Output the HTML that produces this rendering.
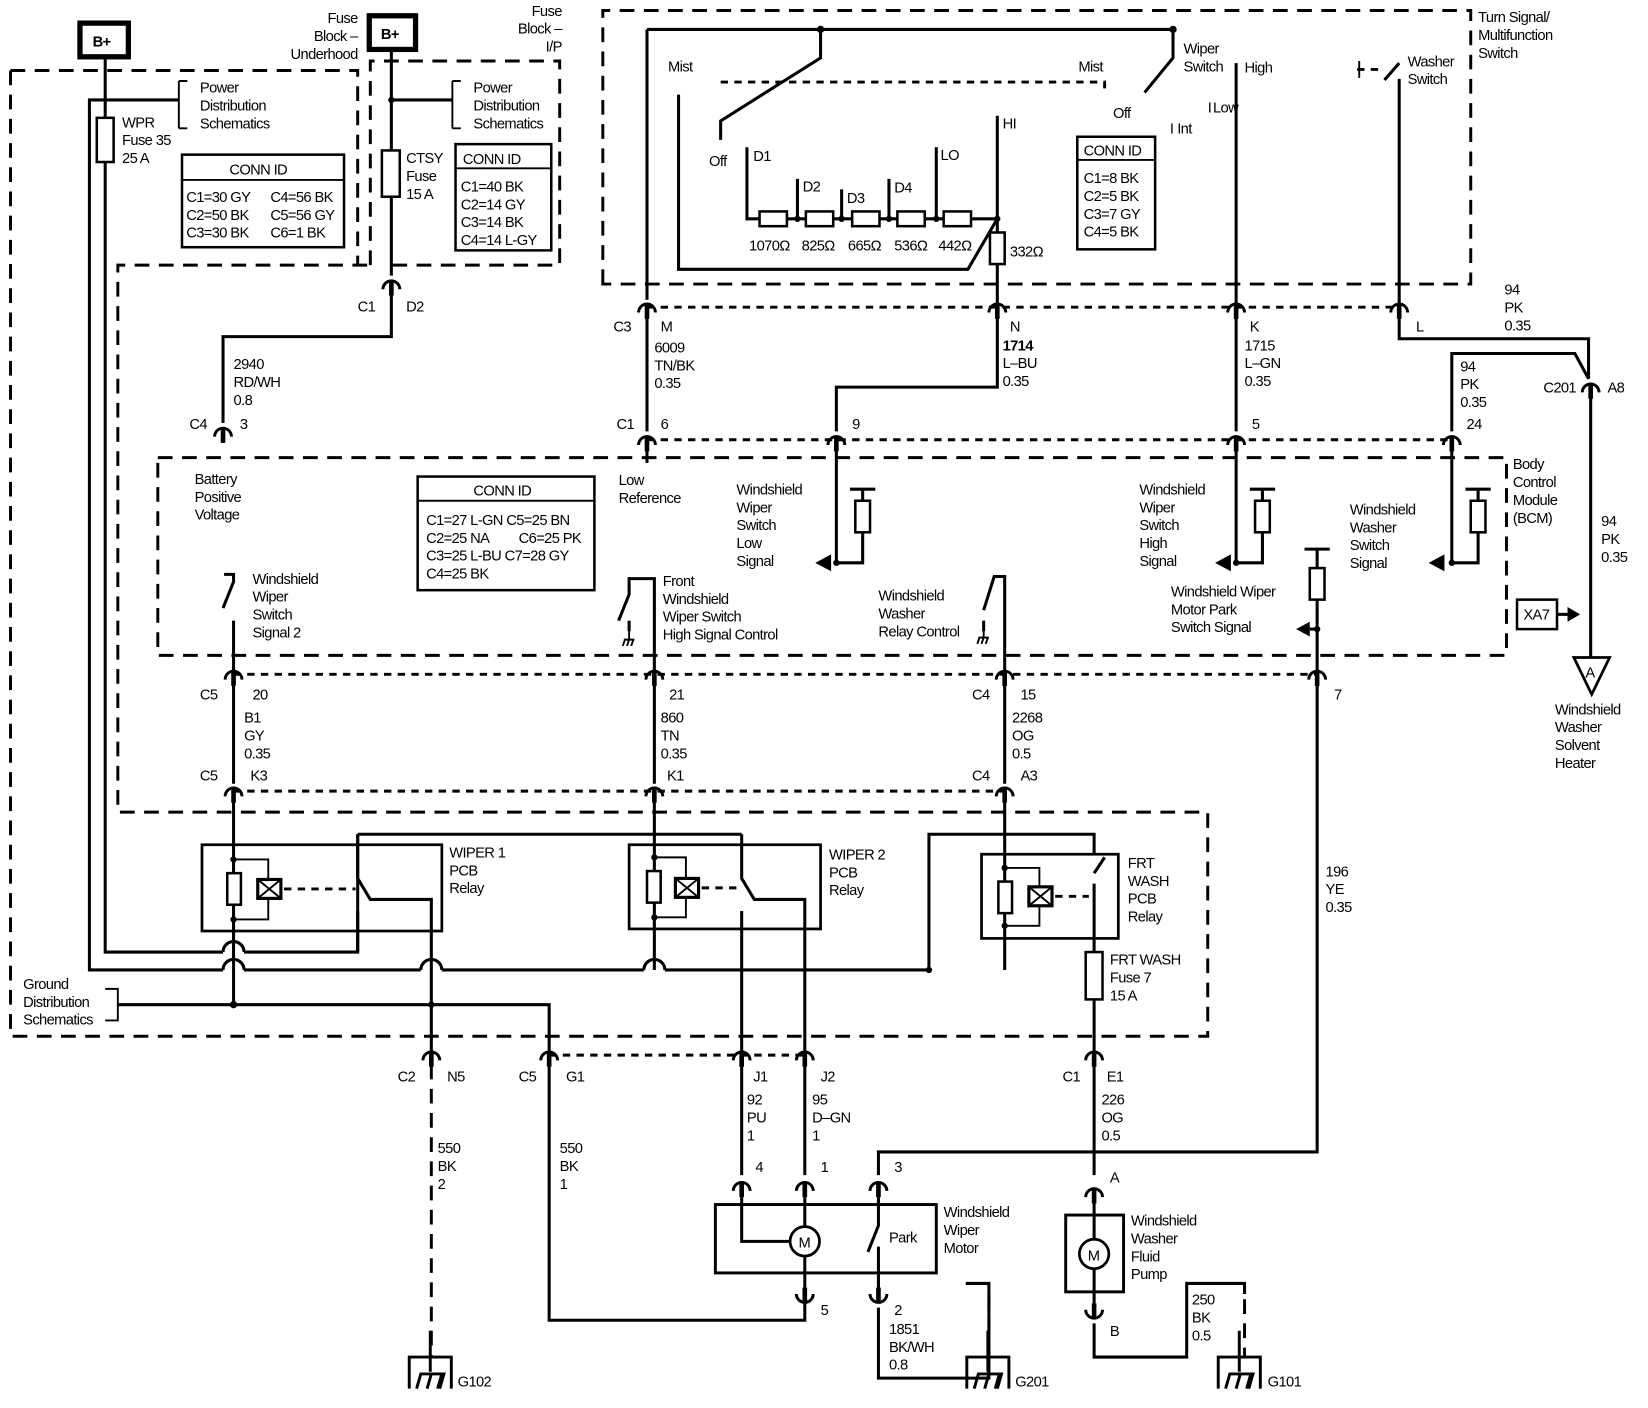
<!DOCTYPE html>
<html><head><meta charset="utf-8"><style>
html,body{margin:0;padding:0;background:#fff;}
svg{display:block;}
text{font-family:"Liberation Sans",sans-serif;font-size:14px;fill:#000;letter-spacing:-0.6px;}
.w{stroke:#000;stroke-width:2.9;fill:none;}
.t{stroke:#000;stroke-width:1.8;fill:none;}
.ld{stroke:#000;stroke-width:2.8;fill:none;stroke-dasharray:14 9;}
.sd{stroke:#000;stroke-width:2.8;fill:none;stroke-dasharray:7 6;}
.b{stroke:#000;stroke-width:2.4;fill:#fff;}
</style></head><body>
<svg width="1648" height="1408" viewBox="0 0 1566.5 1338.4" preserveAspectRatio="none" xmlns="http://www.w3.org/2000/svg">
<defs>
<g id="cup"><path d="M-8,5 A8,8 0 0 1 8,5" stroke="#000" stroke-width="2.8" fill="none"/><rect x="-2.2" y="-3" width="4.4" height="14" fill="#000"/></g>
<g id="gnd"><path d="M-20,30 V0 H20 V30 M0,-25 V14 M-13,30 L-9,16 H13 L9,30 M-3,30 L1,16 M7,30 L11,16" stroke="#000" stroke-width="2.8" fill="none"/></g>
<g id="cg"><path d="M-5,0 H5 M-4,0 L-6,6 M0,0 L-2,6 M4,0 L2,6 M0,-10 V0" stroke="#000" stroke-width="1.8" fill="none"/></g>
</defs>

<path class="ld" d="M10,67 H340 V252 M10,67 V985 H1148 V772 H112 V252 H352"/>
<path class="ld" d="M352,252 V58 H532 V252 H372"/>
<path class="ld" d="M573,270 V10 H1398 V270 Z"/>
<path class="ld" d="M150,435 H1432 V623 H150 Z"/>
<path class="sd" d="M615,292 H1330"/>
<path class="sd" d="M615,418 H1380"/>
<path class="sd" d="M222,641 H1252"/>
<path class="sd" d="M222,752 H955"/>
<path class="sd" d="M522,1003 H765"/>

<rect x="76" y="22" width="46" height="32" fill="#fff" stroke="#000" stroke-width="5"/>
<text x="88" y="44" font-weight="bold">B+</text>
<rect x="351" y="15" width="44" height="32" fill="#fff" stroke="#000" stroke-width="5"/>
<text x="362" y="37" font-weight="bold">B+</text>
<text x="340" y="22" text-anchor="end">Fuse</text>
<text x="340" y="39" text-anchor="end">Block –</text>
<text x="340" y="56" text-anchor="end">Underhood</text>
<text x="534" y="15" text-anchor="end">Fuse</text>
<text x="534" y="32" text-anchor="end">Block –</text>
<text x="534" y="49" text-anchor="end">I/P</text>

<path class="w" d="M100,54 V905 H212 M232,905 H340 V793 H340"/>
<path class="w" d="M100,95 H85 V922 H212 M232,922 H400 M420,922 H612 M632,922 H883"/>
<path class="w" d="M100,95 H170"/>
<path class="t" d="M170,77 V122 M170,77 H178 M170,122 H178"/>
<rect x="92" y="112" width="16" height="42" class="b"/>
<text x="116" y="121">WPR</text><text x="116" y="138">Fuse 35</text><text x="116" y="155">25 A</text>
<text x="190" y="88">Power</text><text x="190" y="105">Distribution</text><text x="190" y="122">Schematics</text>
<rect x="173" y="147" width="154" height="88" class="b"/><path class="t" d="M173,171 H327"/>
<text x="218" y="166">CONN ID</text>
<text x="177" y="192">C1=30 GY</text><text x="257" y="192">C4=56 BK</text>
<text x="177" y="209">C2=50 BK</text><text x="257" y="209">C5=56 GY</text>
<text x="177" y="226">C3=30 BK</text><text x="257" y="226">C6=1 BK</text>

<path class="w" d="M372,47 V262"/>
<path class="w" d="M372,95 H430"/><circle cx="372" cy="95" r="3"/>
<path class="t" d="M430,77 V122 M430,77 H438 M430,122 H438"/>
<rect x="363" y="143" width="17" height="44" class="b"/>
<text x="386" y="155">CTSY</text><text x="386" y="172">Fuse</text><text x="386" y="189">15 A</text>
<text x="450" y="88">Power</text><text x="450" y="105">Distribution</text><text x="450" y="122">Schematics</text>
<rect x="433" y="137" width="91" height="101" class="b"/><path class="t" d="M433,160 H524"/>
<text x="440" y="156">CONN ID</text>
<text x="438" y="182">C1=40 BK</text><text x="438" y="199">C2=14 GY</text><text x="438" y="216">C3=14 BK</text><text x="438" y="233">C4=14 L-GY</text>

<use href="#cup" x="372" y="270"/>
<text x="340" y="296">C1</text><text x="386" y="296">D2</text>
<path class="w" d="M372,280 V320 H212 V402"/>
<text x="222" y="351">2940</text><text x="222" y="368">RD/WH</text><text x="222" y="385">0.8</text>
<use href="#cup" x="212" y="410"/>
<text x="180" y="408">C4</text><text x="228" y="408">3</text>
<text x="185" y="460">Battery</text><text x="185" y="477">Positive</text><text x="185" y="494">Voltage</text>

<path class="w" d="M615,28 H1115 V55 L1088,88"/>
<circle cx="780" cy="28" r="3.5"/><circle cx="1115" cy="28" r="3.5"/>
<path class="w" d="M780,28 V55 L685,115 V133"/>
<path class="sd" d="M685,78 H1050 V88"/>
<path class="w" d="M615,28 V285"/>
<path class="w" d="M645,90 V256 H920 L948,208"/>
<text x="635" y="68">Mist</text><text x="1025" y="68">Mist</text>
<text x="674" y="158">Off</text><text x="1058" y="112">Off</text>
<text x="1125" y="51">Wiper</text><text x="1125" y="68">Switch</text>
<text x="1183" y="69">High</text>
<path class="w" d="M710,140 V208 H948"/>
<path class="w" d="M758,170 V208 M800,180 V208 M845,170 V208 M890,140 V208"/>
<circle cx="758" cy="208" r="3"/><circle cx="800" cy="208" r="3"/><circle cx="845" cy="208" r="3"/><circle cx="890" cy="208" r="3"/><circle cx="948" cy="208" r="3"/>
<rect x="722" y="201" width="26" height="14" class="b"/><rect x="766" y="201" width="26" height="14" class="b"/><rect x="810" y="201" width="26" height="14" class="b"/><rect x="853" y="201" width="26" height="14" class="b"/><rect x="897" y="201" width="26" height="14" class="b"/>
<text x="716" y="153">D1</text><text x="763" y="182">D2</text><text x="805" y="193">D3</text><text x="850" y="183">D4</text><text x="894" y="152">LO</text><text x="953" y="122">HI</text>
<text x="712" y="238">1070Ω</text><text x="762" y="238">825Ω</text><text x="806" y="238">665Ω</text><text x="850" y="238">536Ω</text><text x="892" y="238">442Ω</text>
<path class="w" d="M948,110 V290"/>
<rect x="941" y="221" width="14" height="30" class="b"/>
<text x="960" y="244">332Ω</text>
<rect x="1024" y="130" width="74" height="107" class="b"/><path class="t" d="M1024,152 H1098"/>
<text x="1030" y="148">CONN ID</text>
<text x="1030" y="174">C1=8 BK</text><text x="1030" y="191">C2=5 BK</text><text x="1030" y="208">C3=7 GY</text><text x="1030" y="225">C4=5 BK</text>
<path class="w" d="M1175,60 V290"/>
<text x="1112" y="127">I</text><text x="1119" y="127" font-size="11">Int</text>
<text x="1148" y="107">I</text><text x="1153" y="107">Low</text>
<path class="w" d="M1330,75 V290 M1330,60 L1316,76"/>
<path class="sd" d="M1290,66 H1310"/><path class="t" d="M1292,58 V74"/>
<text x="1338" y="63">Washer</text><text x="1338" y="80">Switch</text>
<text x="1405" y="21">Turn Signal/</text><text x="1405" y="38">Multifunction</text><text x="1405" y="55">Switch</text>

<use href="#cup" x="615" y="292"/><use href="#cup" x="948" y="292"/><use href="#cup" x="1175" y="292"/><use href="#cup" x="1330" y="292"/>
<text x="583" y="315">C3</text><text x="628" y="315">M</text><text x="960" y="315">N</text><text x="1188" y="315">K</text><text x="1346" y="315">L</text>
<path class="w" d="M615,300 V410"/>
<text x="622" y="335">6009</text><text x="622" y="352">TN/BK</text><text x="622" y="369">0.35</text>
<path class="w" d="M948,300 V368 H795 V410"/>
<text x="953" y="333" font-weight="bold">1714</text><text x="953" y="350">L–BU</text><text x="953" y="367">0.35</text>
<path class="w" d="M1175,300 V410"/>
<text x="1183" y="333">1715</text><text x="1183" y="350">L–GN</text><text x="1183" y="367">0.35</text>
<path class="w" d="M1330,300 V322 H1510 V360"/>
<text x="1430" y="280">94</text><text x="1430" y="297">PK</text><text x="1430" y="314">0.35</text>
<path class="w" d="M1380,410 V336 H1497 L1510,360"/>
<text x="1388" y="353">94</text><text x="1388" y="370">PK</text><text x="1388" y="387">0.35</text>
<use href="#cup" x="1512" y="368"/>
<text x="1467" y="373">C201</text><text x="1528" y="373">A8</text>
<path class="w" d="M1512,378 V625"/>
<text x="1522" y="500">94</text><text x="1522" y="517">PK</text><text x="1522" y="534">0.35</text>
<path d="M1496,625 H1530 L1513,660 Z" fill="#fff" stroke="#000" stroke-width="2.6"/>
<text x="1507" y="644">A</text>
<text x="1478" y="679">Windshield</text><text x="1478" y="696">Washer</text><text x="1478" y="713">Solvent</text><text x="1478" y="730">Heater</text>

<use href="#cup" x="615" y="418"/><use href="#cup" x="795" y="418"/><use href="#cup" x="1175" y="418"/><use href="#cup" x="1380" y="418"/>
<text x="586" y="408">C1</text><text x="628" y="408">6</text><text x="810" y="408">9</text><text x="1190" y="408">5</text><text x="1394" y="408">24</text>
<path class="w" d="M615,428 V440"/>
<text x="588" y="461">Low</text><text x="588" y="478">Reference</text>

<path class="w" d="M795,428 V535 H820 V505 M820,478 V465"/><path class="w" d="M808,465 H832"/>
<rect x="813" y="476" width="14" height="30" class="b"/>
<path d="M775,535 L790,527 V543 Z"/><circle cx="795" cy="535" r="3"/>
<text x="700" y="470">Windshield</text><text x="700" y="487">Wiper</text><text x="700" y="504">Switch</text><text x="700" y="521">Low</text><text x="700" y="538">Signal</text>
<path class="w" d="M1175,428 V535 H1200 V505 M1200,478 V465"/><path class="w" d="M1188,465 H1212"/>
<rect x="1193" y="476" width="14" height="30" class="b"/>
<path d="M1155,535 L1170,527 V543 Z"/><circle cx="1175" cy="535" r="3"/>
<text x="1083" y="470">Windshield</text><text x="1083" y="487">Wiper</text><text x="1083" y="504">Switch</text><text x="1083" y="521">High</text><text x="1083" y="538">Signal</text>
<path class="w" d="M1380,428 V535 H1405 V505 M1405,478 V465"/><path class="w" d="M1393,465 H1417"/>
<rect x="1398" y="476" width="14" height="30" class="b"/>
<path d="M1358,535 L1373,527 V543 Z"/><circle cx="1380" cy="535" r="3"/>
<text x="1283" y="489">Windshield</text><text x="1283" y="506">Washer</text><text x="1283" y="523">Switch</text><text x="1283" y="540">Signal</text>
<text x="1438" y="446">Body</text><text x="1438" y="463">Control</text><text x="1438" y="480">Module</text><text x="1438" y="497">(BCM)</text>
<rect x="1442" y="570" width="38" height="28" class="b"/><text x="1448" y="589">XA7</text>
<path class="w" d="M1480,584 H1492"/><path d="M1502,584 L1490,577 V591 Z"/>
<path class="w" d="M1240,522 H1264 M1252,522 V640"/>
<rect x="1245" y="540" width="14" height="30" class="b"/>
<path d="M1232,598 L1245,591 V605 Z"/><path class="w" d="M1245,598 H1252"/><circle cx="1252" cy="598" r="3"/>
<text x="1113" y="567">Windshield Wiper</text><text x="1113" y="584">Motor Park</text><text x="1113" y="601">Switch Signal</text>
<path class="w" d="M213,546 H222 V553 L212,578 M222,590 V641"/>
<text x="240" y="555">Windshield</text><text x="240" y="572">Wiper</text><text x="240" y="589">Switch</text><text x="240" y="606">Signal 2</text>
<rect x="397" y="453" width="168" height="108" class="b"/><path class="t" d="M397,476 H565"/>
<text x="450" y="471">CONN ID</text>
<text x="405" y="499">C1=27 L-GN C5=25 BN</text><text x="405" y="516">C2=25 NA</text><text x="493" y="516">C6=25 PK</text>
<text x="405" y="533">C3=25 L-BU C7=28 GY</text><text x="405" y="550">C4=25 BK</text>
<path class="w" d="M622,641 V550 H598 V565 L588,590"/><path class="w" d="M598,590 V600"/><use href="#cg" x="598" y="608"/>
<text x="630" y="557">Front</text><text x="630" y="574">Windshield</text><text x="630" y="591">Wiper Switch</text><text x="630" y="608">High Signal Control</text>
<path class="w" d="M955,641 V548 H945 L935,580 M935,590 V600"/><use href="#cg" x="935" y="606"/>
<text x="835" y="571">Windshield</text><text x="835" y="588">Washer</text><text x="835" y="605">Relay Control</text>

<use href="#cup" x="222" y="641"/><use href="#cup" x="622" y="641"/><use href="#cup" x="955" y="641"/><use href="#cup" x="1252" y="641"/>
<text x="190" y="665">C5</text><text x="240" y="665">20</text><text x="636" y="665">21</text><text x="924" y="665">C4</text><text x="970" y="665">15</text><text x="1268" y="665">7</text>
<text x="232" y="687">B1</text><text x="232" y="704">GY</text><text x="232" y="721">0.35</text>
<text x="628" y="687">860</text><text x="628" y="704">TN</text><text x="628" y="721">0.35</text>
<text x="962" y="687">2268</text><text x="962" y="704">OG</text><text x="962" y="721">0.5</text>
<path class="w" d="M222,650 V745 M622,650 V745 M955,650 V745"/>
<use href="#cup" x="222" y="752"/><use href="#cup" x="622" y="752"/><use href="#cup" x="955" y="752"/>
<text x="190" y="742">C5</text><text x="238" y="742">K3</text><text x="634" y="742">K1</text><text x="924" y="742">C4</text><text x="970" y="742">A3</text>
<path class="w" d="M1252,650 V1095 H835 V1117"/>
<text x="1260" y="833">196</text><text x="1260" y="850">YE</text><text x="1260" y="867">0.35</text>

<rect x="192" y="803" width="228" height="82" fill="none" stroke="#000" stroke-width="2.6"/>
<path class="w" d="M222,762 V955"/>
<circle cx="222" cy="955" r="3.5"/>
<path class="t" d="M222,817 H255 V837 M255,855 V874 H222"/><circle cx="222" cy="817" r="3"/><circle cx="222" cy="874" r="3"/>
<rect x="216" y="830" width="13" height="30" class="b"/>
<rect x="245" y="836" width="22" height="18" fill="#fff" stroke="#000" stroke-width="3"/><path class="t" d="M245,836 L267,854 M267,836 L245,854"/>
<path class="sd" d="M270,845 H338"/>
<path class="w" d="M340,793 V835 L352,855 H410 V1003 M340,866 V905"/>
<text x="427" y="815">WIPER 1</text><text x="427" y="832">PCB</text><text x="427" y="849">Relay</text>

<rect x="598" y="803" width="182" height="80" fill="none" stroke="#000" stroke-width="2.6"/>
<path class="w" d="M622,762 V922"/>
<path class="t" d="M622,815 H652 V835 M652,853 V872 H622"/><circle cx="622" cy="815" r="3"/><circle cx="622" cy="872" r="3"/>
<rect x="615" y="828" width="13" height="30" class="b"/>
<rect x="642" y="835" width="22" height="18" fill="#fff" stroke="#000" stroke-width="3"/><path class="t" d="M642,835 L664,853 M664,835 L642,853"/>
<path class="sd" d="M667,844 H700"/>
<path class="w" d="M705,793 V835 L717,855 H765 V1003 M705,866 V1003"/>
<path class="w" d="M340,793 H705"/>
<text x="788" y="817">WIPER 2</text><text x="788" y="834">PCB</text><text x="788" y="851">Relay</text>

<rect x="933" y="812" width="130" height="80" fill="none" stroke="#000" stroke-width="2.6"/>
<path class="w" d="M883,922 V793 H1040 V812 M1040,830 L1050,815"/>
<path class="w" d="M955,762 V922"/>
<path class="t" d="M955,825 H988 V843 M988,862 V880 H955"/><circle cx="955" cy="825" r="3"/><circle cx="955" cy="880" r="3"/>
<rect x="949" y="838" width="13" height="30" class="b"/>
<rect x="978" y="843" width="22" height="18" fill="#fff" stroke="#000" stroke-width="3"/><path class="t" d="M978,843 L1000,861 M1000,843 L978,861"/>
<path class="sd" d="M1003,852 H1035"/>
<path class="w" d="M1040,840 V1003"/>
<circle cx="883" cy="922" r="3"/>
<text x="1072" y="825">FRT</text><text x="1072" y="842">WASH</text><text x="1072" y="859">PCB</text><text x="1072" y="876">Relay</text>
<rect x="1032" y="905" width="16" height="45" class="b"/>
<text x="1055" y="917">FRT WASH</text><text x="1055" y="934">Fuse 7</text><text x="1055" y="951">15 A</text>

<path class="w" d="M112,955 H522 V1003"/><circle cx="410" cy="955" r="3"/>
<path class="t" d="M100,940 H112 V970 H100"/>
<text x="22" y="940">Ground</text><text x="22" y="957">Distribution</text><text x="22" y="974">Schematics</text>
<path class="w" d="M212,905 A10,10 0 0 1 232,905 M212,922 A10,10 0 0 1 232,922 M400,922 A10,10 0 0 1 420,922 M612,922 A10,10 0 0 1 632,922"/>

<use href="#cup" x="410" y="1003"/><use href="#cup" x="522" y="1003"/><use href="#cup" x="705" y="1003"/><use href="#cup" x="765" y="1003"/><use href="#cup" x="1040" y="1003"/>
<text x="378" y="1028">C2</text><text x="425" y="1028">N5</text><text x="493" y="1028">C5</text><text x="538" y="1028">G1</text>
<text x="716" y="1028">J1</text><text x="780" y="1028">J2</text><text x="1010" y="1028">C1</text><text x="1052" y="1028">E1</text>
<path class="ld" d="M410,1012 V1290"/>
<text x="416" y="1096">550</text><text x="416" y="1113">BK</text><text x="416" y="1130">2</text>
<use href="#gnd" x="409" y="1290"/><text x="435" y="1318">G102</text>
<path class="w" d="M522,1012 V1255 H765 V1238"/>
<text x="532" y="1096">550</text><text x="532" y="1113">BK</text><text x="532" y="1130">1</text>
<path class="w" d="M705,1012 V1117 M765,1012 V1117"/>
<text x="710" y="1050">92</text><text x="710" y="1067">PU</text><text x="710" y="1084">1</text>
<text x="772" y="1050">95</text><text x="772" y="1067">D–GN</text><text x="772" y="1084">1</text>
<use href="#cup" x="705" y="1127"/><use href="#cup" x="765" y="1127"/><use href="#cup" x="835" y="1127"/>
<text x="718" y="1114">4</text><text x="780" y="1114">1</text><text x="850" y="1114">3</text>
<rect x="680" y="1145" width="210" height="65" fill="none" stroke="#000" stroke-width="2.8"/>
<path class="w" d="M705,1138 V1180 H751 M765,1138 V1166 M765,1194 V1230"/>
<circle cx="765" cy="1180" r="14" fill="#fff" stroke="#000" stroke-width="2.6"/><text x="759" y="1186">M</text>
<path class="w" d="M835,1138 V1165 L825,1190 M835,1185 V1230"/>
<text x="845" y="1181">Park</text>
<text x="897" y="1157">Windshield</text><text x="897" y="1174">Wiper</text><text x="897" y="1191">Motor</text>
<use href="#cup" x="765" y="1235" transform="rotate(180 765 1235)"/><use href="#cup" x="835" y="1235" transform="rotate(180 835 1235)"/>
<text x="780" y="1250">5</text><text x="850" y="1250">2</text>
<path class="w" d="M835,1243 V1310 H940 V1220 H918"/>
<text x="845" y="1268">1851</text><text x="845" y="1285">BK/WH</text><text x="845" y="1302">0.8</text>
<path class="ld" d="M940,1230 V1290"/>
<use href="#gnd" x="939" y="1290"/><text x="965" y="1318">G201</text>

<path class="w" d="M1040,1012 V1117"/>
<text x="1047" y="1050">226</text><text x="1047" y="1067">OG</text><text x="1047" y="1084">0.5</text>
<use href="#cup" x="1040" y="1133"/><text x="1055" y="1124">A</text>
<rect x="1013" y="1155" width="55" height="73" fill="none" stroke="#000" stroke-width="2.8"/>
<path class="w" d="M1040,1143 V1178 M1040,1206 V1245"/>
<circle cx="1040" cy="1192" r="14" fill="#fff" stroke="#000" stroke-width="2.6"/><text x="1034" y="1198">M</text>
<text x="1075" y="1165">Windshield</text><text x="1075" y="1182">Washer</text><text x="1075" y="1199">Fluid</text><text x="1075" y="1216">Pump</text>
<use href="#cup" x="1040" y="1250" transform="rotate(180 1040 1250)"/><text x="1055" y="1270">B</text>
<path class="w" d="M1040,1258 V1290 H1128 V1220 H1183 V1230"/>
<text x="1133" y="1240">250</text><text x="1133" y="1257">BK</text><text x="1133" y="1274">0.5</text>
<path class="ld" d="M1183,1235 V1290"/>
<use href="#gnd" x="1178" y="1290"/><text x="1205" y="1318">G101</text>
</svg>
</body></html>
